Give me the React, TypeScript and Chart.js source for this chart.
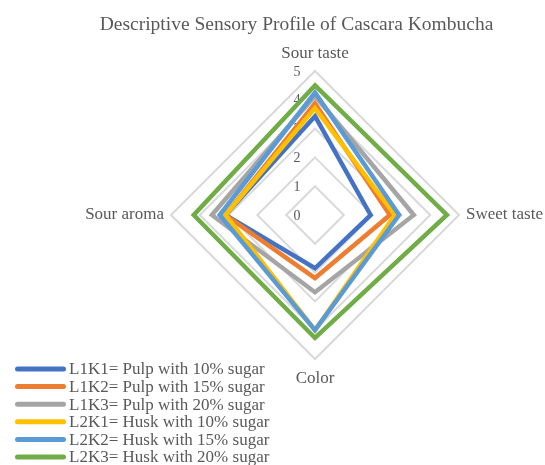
import React, { useEffect, useRef } from "react";
import { Chart, registerables } from "chart.js";

Chart.register(...registerables);

const titleText = "Descriptive Sensory Profile of Cascara Kombucha";
const categories = ["Sour taste", "Sweet taste", "Color", "Sour aroma"];
const tickLabels = ["0", "1", "2", "3", "4", "5"];

const seriesNames = [
  "L1K1= Pulp with 10% sugar",
  "L1K2= Pulp with 15% sugar",
  "L1K3= Pulp with 20% sugar",
  "L2K1= Husk with 10% sugar",
  "L2K2= Husk with 15% sugar",
  "L2K3= Husk with 20% sugar",
];
const seriesColors = ["#4472C4", "#ED7D31", "#A5A5A5", "#FFC000", "#5B9BD5", "#70AD47"];

const L1K1 = [3.43, 1.93, 1.85, 3.11];
const L1K2 = [3.87, 2.6, 2.19, 3.11];
const L1K3 = [4.15, 3.43, 2.68, 3.58];
const L2K1 = [3.71, 2.77, 4.0, 3.11];
const L2K2 = [4.25, 2.92, 4.0, 3.31];
const L2K3 = [4.5, 4.58, 4.27, 4.21];
const seriesValues = [L1K1, L1K2, L1K3, L2K1, L2K2, L2K3];

const FONT = "'Liberation Serif', 'Times New Roman', serif";
const TEXT_COLOR = "#595959";

const decorPlugin = {
  id: "decor",
  beforeDatasetsDraw(chart: any) {
    const scale = chart.scales.r;
    const ctx = chart.ctx;
    ctx.save();
    ctx.font = `14px ${FONT}`;
    ctx.fillStyle = TEXT_COLOR;
    ctx.textAlign = "center";
    ctx.textBaseline = "middle";
    tickLabels.forEach((t, i) => {
      const d = scale.getDistanceFromCenterForValue(i);
      ctx.fillText(t, scale.xCenter - 18, scale.yCenter - d + 1);
    });
    ctx.restore();
  },
  afterDraw(chart: any) {
    const scale = chart.scales.r;
    const ctx = chart.ctx;
    ctx.save();
    // title
    ctx.font = `19.5px ${FONT}`;
    ctx.fillStyle = TEXT_COLOR;
    ctx.textAlign = "center";
    ctx.textBaseline = "alphabetic";
    ctx.fillText(titleText, 296.5, 30);

    // point labels
    ctx.font = `17px ${FONT}`;
    const r = scale.drawingArea;
    categories.forEach((c, i) => {
      if (i === 0) {
        const p = scale.getPointPosition(i, r + 13);
        ctx.textAlign = "center";
        ctx.textBaseline = "alphabetic";
        ctx.fillText(c, p.x, p.y);
      } else if (i === 1) {
        const p = scale.getPointPosition(i, r + 7);
        ctx.textAlign = "left";
        ctx.textBaseline = "middle";
        ctx.fillText(c, p.x, p.y);
      } else if (i === 2) {
        const p = scale.getPointPosition(i, r + 24);
        ctx.textAlign = "center";
        ctx.textBaseline = "alphabetic";
        ctx.fillText(c, p.x, p.y);
      } else {
        const p = scale.getPointPosition(i, r + 7);
        ctx.textAlign = "right";
        ctx.textBaseline = "middle";
        ctx.fillText(c, p.x, p.y);
      }
    });

    // legend
    ctx.font = `17px ${FONT}`;
    ctx.textAlign = "left";
    ctx.textBaseline = "middle";
    chart.data.datasets.forEach((ds: any, i: number) => {
      const y = 369 + i * 17.6;
      ctx.strokeStyle = ds.borderColor;
      ctx.lineWidth = 5;
      ctx.lineCap = "round";
      ctx.beginPath();
      ctx.moveTo(17.5, y);
      ctx.lineTo(63.5, y);
      ctx.stroke();
      ctx.fillStyle = TEXT_COLOR;
      ctx.fillText(ds.label, 69, y + 1);
    });
    ctx.restore();
  },
};

export default function App() {
  const ref = useRef<HTMLCanvasElement | null>(null);
  useEffect(() => {
    if (!ref.current) return;
    const chart = new Chart(ref.current, {
      type: "radar",
      data: {
        labels: categories,
        datasets: seriesValues.map((vals, i) => ({
          label: seriesNames[i],
          data: vals,
          borderColor: seriesColors[i],
          backgroundColor: "transparent",
          borderWidth: 4.5,
          pointRadius: 0,
          pointHoverRadius: 0,
          fill: false,
          tension: 0,
          borderJoinStyle: "miter" as const,
          order: seriesValues.length - i,
        })),
      },
      options: {
        animation: false,
        responsive: true,
        maintainAspectRatio: false,
        layout: { padding: { left: 171, top: 71, right: 86, bottom: 106 } },
        plugins: {
          legend: { display: false },
          title: { display: false },
          tooltip: { enabled: false },
        },
        scales: {
          r: {
            min: 0,
            max: 5,
            ticks: { display: false, stepSize: 1 },
            grid: { circular: false, color: "#D9D9D9", lineWidth: 2 },
            angleLines: { display: false },
            pointLabels: { display: false },
          },
        },
      },
      plugins: [decorPlugin],
    });
    return () => chart.destroy();
  }, []);
  return (
    <div style={{ position: "fixed", left: 0, top: 0, width: 545, height: 465, background: "#fff" }}>
      <canvas ref={ref} />
    </div>
  );
}
